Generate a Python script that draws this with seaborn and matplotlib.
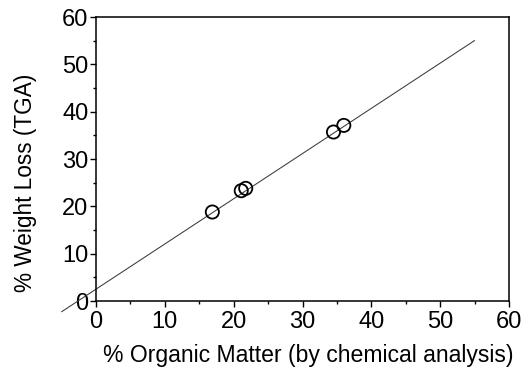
import numpy as np
import pandas as pd
import matplotlib
matplotlib.use("Agg")
import matplotlib.pyplot as plt
import seaborn as sns

# Measured samples: organic matter by chemical analysis vs TGA weight loss
organic_matter = [16.9, 21.1, 21.75, 34.5, 36.0]
weight_loss = [18.8, 23.3, 23.8, 35.7, 37.1]

# Regression line endpoints
fit_x = [-5.0, 55.0]
fit_intercept = 2.5
fit_slope = 0.955

x_ticks = [0, 10, 20, 30, 40, 50, 60]
y_ticks = [0, 10, 20, 30, 40, 50, 60]

sns.set_style("ticks")
plt.rcParams["font.family"] = ["Liberation Sans", "DejaVu Sans"]

fig = plt.figure(figsize=(5.22, 3.67), dpi=100)
ax = fig.add_axes([96 / 522, 66 / 367, 413 / 522, 284 / 367])

df = pd.DataFrame({"om": organic_matter, "wl": weight_loss})
fit_df = pd.DataFrame({"x": fit_x,
                       "y": [fit_intercept + fit_slope * v for v in fit_x]})

sns.lineplot(data=fit_df, x="x", y="y", ax=ax, color="#3a3a3a",
             linewidth=0.75, clip_on=False)
sns.scatterplot(data=df, x="om", y="wl", ax=ax, s=90, facecolor="none",
                edgecolor="black", linewidth=1.3, zorder=3)

ax.set_xlim(0, 60)
ax.set_ylim(0, 60)
ax.set_xticks(x_ticks)
ax.set_yticks(y_ticks)
ax.set_xticks(np.arange(5, 60, 10), minor=True)
ax.set_yticks(np.arange(5, 60, 10), minor=True)
ax.tick_params(axis="both", which="major", direction="out", length=4,
               width=1, labelsize=17, color="black", labelcolor="black")
ax.tick_params(axis="x", which="major", pad=3)
ax.tick_params(axis="y", which="major", pad=1.5)
ax.tick_params(axis="both", which="minor", direction="out", length=2.5,
               width=1, color="black")

for side in ["left", "bottom", "right", "top"]:
    ax.spines[side].set_visible(True)
    ax.spines[side].set_color("black")
    ax.spines[side].set_linewidth(1.1)

ax.set_xlabel("% Organic Matter (by chemical analysis)", fontsize=16.6,
              color="black")
ax.set_ylabel("% Weight Loss (TGA)", fontsize=16.3, color="black")
ax.xaxis.set_label_coords(0.5145, -0.153)
ax.yaxis.set_label_coords(-0.143, 0.417)

fig.savefig("out.png", dpi=100)
